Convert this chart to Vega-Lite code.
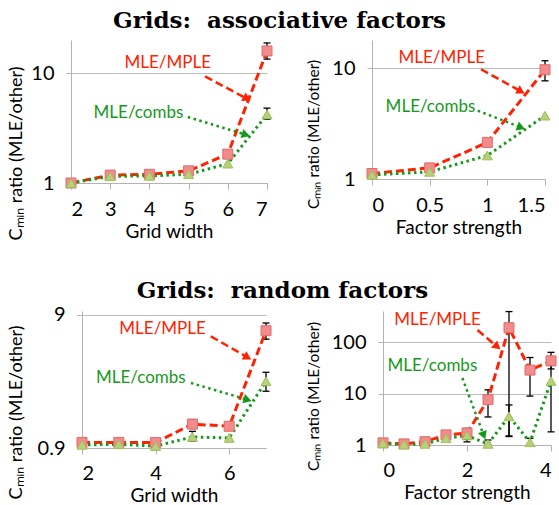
{
  "$schema": "https://vega.github.io/schema/vega-lite/v6.json",
  "padding": {"left": 6, "top": 10, "right": 2, "bottom": 0},
  "datasets": {
    "pts": [
      {"p": "TL", "s": "MLE/MPLE", "x": 2, "v": 1.0},
      {"p": "TL", "s": "MLE/MPLE", "x": 3, "v": 1.18},
      {"p": "TL", "s": "MLE/MPLE", "x": 4, "v": 1.2},
      {"p": "TL", "s": "MLE/MPLE", "x": 5, "v": 1.29},
      {"p": "TL", "s": "MLE/MPLE", "x": 6, "v": 1.83},
      {"p": "TL", "s": "MLE/MPLE", "x": 7, "v": 15.9, "lo": 13.4, "hi": 18.8},
      {"p": "TL", "s": "MLE/combs", "x": 2, "v": 1.0},
      {"p": "TL", "s": "MLE/combs", "x": 3, "v": 1.15},
      {"p": "TL", "s": "MLE/combs", "x": 4, "v": 1.16},
      {"p": "TL", "s": "MLE/combs", "x": 5, "v": 1.2},
      {"p": "TL", "s": "MLE/combs", "x": 6, "v": 1.5},
      {"p": "TL", "s": "MLE/combs", "x": 7, "v": 4.2, "lo": 3.8, "hi": 4.8},
      {"p": "TR", "s": "MLE/MPLE", "x": 0, "v": 1.12},
      {"p": "TR", "s": "MLE/MPLE", "x": 0.5, "v": 1.26},
      {"p": "TR", "s": "MLE/MPLE", "x": 1, "v": 2.14},
      {"p": "TR", "s": "MLE/MPLE", "x": 1.5, "v": 9.7, "lo": 7.7, "hi": 11.7},
      {"p": "TR", "s": "MLE/combs", "x": 0, "v": 1.09},
      {"p": "TR", "s": "MLE/combs", "x": 0.5, "v": 1.16},
      {"p": "TR", "s": "MLE/combs", "x": 1, "v": 1.63},
      {"p": "TR", "s": "MLE/combs", "x": 1.5, "v": 3.73},
      {"p": "BL", "s": "MLE/MPLE", "x": 2, "v": 0.99},
      {"p": "BL", "s": "MLE/MPLE", "x": 3, "v": 0.99},
      {"p": "BL", "s": "MLE/MPLE", "x": 4, "v": 0.99},
      {"p": "BL", "s": "MLE/MPLE", "x": 5, "v": 1.36, "lo": 1.26, "hi": 1.47},
      {"p": "BL", "s": "MLE/MPLE", "x": 6, "v": 1.31},
      {"p": "BL", "s": "MLE/MPLE", "x": 7, "v": 6.83, "lo": 5.9, "hi": 7.8},
      {"p": "BL", "s": "MLE/combs", "x": 2, "v": 0.95},
      {"p": "BL", "s": "MLE/combs", "x": 3, "v": 0.96},
      {"p": "BL", "s": "MLE/combs", "x": 4, "v": 0.93},
      {"p": "BL", "s": "MLE/combs", "x": 5, "v": 1.09, "lo": 1.01, "hi": 1.2},
      {"p": "BL", "s": "MLE/combs", "x": 6, "v": 1.07},
      {"p": "BL", "s": "MLE/combs", "x": 7, "v": 2.85, "lo": 2.4, "hi": 3.33},
      {"p": "BR", "s": "MLE/MPLE", "x": 0, "v": 1.1},
      {"p": "BR", "s": "MLE/MPLE", "x": 0.5, "v": 1.05},
      {"p": "BR", "s": "MLE/MPLE", "x": 1, "v": 1.16},
      {"p": "BR", "s": "MLE/MPLE", "x": 1.5, "v": 1.57, "lo": 1.35, "hi": 1.75},
      {"p": "BR", "s": "MLE/MPLE", "x": 2, "v": 1.71, "lo": 1.3, "hi": 2.1},
      {"p": "BR", "s": "MLE/MPLE", "x": 2.5, "v": 7.6, "lo": 3.5, "hi": 11.8},
      {"p": "BR", "s": "MLE/MPLE", "x": 3, "v": 190, "lo": 1.46, "hi": 390},
      {"p": "BR", "s": "MLE/MPLE", "x": 3.5, "v": 28.5, "lo": 8.9, "hi": 50},
      {"p": "BR", "s": "MLE/MPLE", "x": 4, "v": 43, "lo": 30, "hi": 63},
      {"p": "BR", "s": "MLE/combs", "x": 0, "v": 1.08},
      {"p": "BR", "s": "MLE/combs", "x": 0.5, "v": 1.02},
      {"p": "BR", "s": "MLE/combs", "x": 1, "v": 1.05},
      {"p": "BR", "s": "MLE/combs", "x": 1.5, "v": 1.35, "lo": 1.2, "hi": 1.5},
      {"p": "BR", "s": "MLE/combs", "x": 2, "v": 1.53, "lo": 1.15, "hi": 1.95},
      {"p": "BR", "s": "MLE/combs", "x": 2.5, "v": 1.05, "lo": 1.0, "hi": 1.25},
      {"p": "BR", "s": "MLE/combs", "x": 3, "v": 3.6, "lo": 1.5, "hi": 6.0},
      {"p": "BR", "s": "MLE/combs", "x": 3.5, "v": 1.13, "lo": 1.0, "hi": 1.35},
      {"p": "BR", "s": "MLE/combs", "x": 4, "v": 17.5, "lo": 1.8, "hi": 36}
    ],
    "arrows": [
      {"p": "TL", "s": "MLE/MPLE", "x": 5.42, "v": 9.33, "x2": 6.49, "v2": 5.85},
      {"p": "TL", "s": "MLE/combs", "x": 4.98, "v": 3.98, "x2": 6.46, "v2": 2.75},
      {"p": "TR", "s": "MLE/MPLE", "x": 0.945, "v": 9.8, "x2": 1.292, "v2": 6.18},
      {"p": "TR", "s": "MLE/combs", "x": 0.917, "v": 4.14, "x2": 1.292, "v2": 2.92},
      {"p": "BL", "s": "MLE/MPLE", "x": 5.5, "v": 6.2, "x2": 6.5, "v2": 4.31},
      {"p": "BL", "s": "MLE/combs", "x": 4.96, "v": 2.77, "x2": 6.5, "v2": 2.07},
      {"p": "BR", "s": "MLE/MPLE", "x": 2.25, "v": 171, "x2": 2.72, "v2": 81},
      {"p": "BR", "s": "MLE/combs", "x": 1.89, "v": 20, "x2": 2.4, "v2": 1.53}
    ],
    "labels": [
      {"p": "TL", "s": "MLE/MPLE", "x": 4.47, "v": 12.3},
      {"p": "TL", "s": "MLE/combs", "x": 3.72, "v": 4.33},
      {"p": "TR", "s": "MLE/MPLE", "x": 0.605, "v": 12.5},
      {"p": "TR", "s": "MLE/combs", "x": 0.507, "v": 4.5},
      {"p": "BL", "s": "MLE/MPLE", "x": 4.19, "v": 7.03},
      {"p": "BL", "s": "MLE/combs", "x": 3.6, "v": 3.01},
      {"p": "BR", "s": "MLE/MPLE", "x": 1.3, "v": 269},
      {"p": "BR", "s": "MLE/combs", "x": 1.176, "v": 34.4}
    ],
    "none": []
  },
  "spacing": 38,
  "vconcat": [
    {
      "title": {"text": "Grids:\u00a0 associative factors"},
      "bounds": "flush",
      "spacing": 105,
      "hconcat": [
        {
          "width": 196, "height": 143,
          "data": {"name": "pts"},
          "transform": [{"filter": "datum.p == 'TL'"}],
          "encoding": {
            "x": {"field": "x", "type": "quantitative", "scale": {"domain": [2, 7], "nice": false, "zero": false}, "axis": {"title": "Grid width", "values": [2, 3, 4, 5, 6, 7], "format": "~g"}},
            "y": {"field": "v", "type": "quantitative", "scale": {"type": "log", "domain": [1, 20], "nice": false}, "axis": {"title": "Cₘᵢₙ ratio (MLE/other)", "values": [1, 10], "format": "~g", "titleX": -55, "titleY": 113, "titleFontSize": 18}}
          },
          "layer": [
            {"transform": [{"filter": "isValid(datum.lo)"}], "mark": {"type": "rule", "color": "#000", "strokeWidth": 1.3}, "encoding": {"y": {"field": "lo", "type": "quantitative", "scale": {"type": "log"}}, "y2": {"field": "hi"}}},
            {"transform": [{"filter": "isValid(datum.lo)"}], "mark": {"type": "tick", "orient": "horizontal", "color": "#000", "size": 7, "thickness": 1.3, "opacity": 1}, "encoding": {"y": {"field": "lo", "type": "quantitative", "scale": {"type": "log"}}}},
            {"transform": [{"filter": "isValid(datum.lo)"}], "mark": {"type": "tick", "orient": "horizontal", "color": "#000", "size": 7, "thickness": 1.3, "opacity": 1}, "encoding": {"y": {"field": "hi", "type": "quantitative", "scale": {"type": "log"}}}},
            {"mark": {"type": "line", "strokeWidth": 3}, "encoding": {
              "color": {"field": "s", "type": "nominal", "scale": {"domain": ["MLE/MPLE", "MLE/combs"], "range": ["#ff2200", "#16991a"]}, "legend": null},
              "strokeDash": {"field": "s", "type": "nominal", "scale": {"domain": ["MLE/MPLE", "MLE/combs"], "range": [[8, 4], [2.5, 3.5]]}, "legend": null}}},
            {"mark": {"type": "point", "filled": true, "size": 100, "opacity": 1, "strokeWidth": 1}, "encoding": {
              "shape": {"field": "s", "type": "nominal", "scale": {"domain": ["MLE/MPLE", "MLE/combs"], "range": ["square", "triangle-up"]}, "legend": null},
              "fill": {"field": "s", "type": "nominal", "scale": {"domain": ["MLE/MPLE", "MLE/combs"], "range": ["#f28b8b", "#b7d17a"]}, "legend": null},
              "stroke": {"field": "s", "type": "nominal", "scale": {"domain": ["MLE/MPLE", "MLE/combs"], "range": ["#e46a6a", "#9fbf5a"]}, "legend": null}}},
            {"data": {"name": "arrows"}, "transform": [{"filter": "datum.p == 'TL'"}], "mark": {"type": "rule", "strokeWidth": 2.5}, "encoding": {
              "x2": {"field": "x2"}, "y2": {"field": "v2"},
              "color": {"field": "s", "type": "nominal", "scale": {"domain": ["MLE/MPLE", "MLE/combs"], "range": ["#ff2200", "#16991a"]}, "legend": null},
              "strokeDash": {"field": "s", "type": "nominal", "scale": {"domain": ["MLE/MPLE", "MLE/combs"], "range": [[8, 4], [2.5, 3.5]]}, "legend": null}}},
            {"data": {"name": "arrows"}, "transform": [{"filter": "datum.p == 'TL' && datum.s == 'MLE/MPLE'"}], "mark": {"type": "point", "shape": "triangle-right", "filled": true, "size": 90, "angle": 28, "color": "#ff2200", "opacity": 1}, "encoding": {"x": {"field": "x2", "type": "quantitative"}, "y": {"field": "v2", "type": "quantitative", "scale": {"type": "log"}}}},
            {"data": {"name": "arrows"}, "transform": [{"filter": "datum.p == 'TL' && datum.s == 'MLE/combs'"}], "mark": {"type": "point", "shape": "triangle-right", "filled": true, "size": 90, "angle": 17, "color": "#16991a", "opacity": 1}, "encoding": {"x": {"field": "x2", "type": "quantitative"}, "y": {"field": "v2", "type": "quantitative", "scale": {"type": "log"}}}},
            {"data": {"name": "labels"}, "transform": [{"filter": "datum.p == 'TL'"}], "mark": {"type": "text", "fontSize": 17, "font": "Lato"}, "encoding": {"text": {"field": "s"},
              "color": {"field": "s", "type": "nominal", "scale": {"domain": ["MLE/MPLE", "MLE/combs"], "range": ["#ff2200", "#16991a"]}, "legend": null}}}
          ]
        },
        {
          "width": 173, "height": 139,
          "data": {"name": "pts"},
          "transform": [{"filter": "datum.p == 'TR'"}],
          "encoding": {
            "x": {"field": "x", "type": "quantitative", "scale": {"domain": [0, 1.5], "nice": false, "zero": false}, "axis": {"title": "Factor strength", "values": [0, 0.5, 1, 1.5], "format": "~g"}},
            "y": {"field": "v", "type": "quantitative", "scale": {"type": "log", "domain": [1, 18], "nice": false}, "axis": {"title": "Cₘᵢₙ ratio (MLE/other)", "values": [1, 10], "format": "~g", "titleX": -59, "titleY": 94, "titleFontSize": 15.5}}
          },
          "layer": [
            {"transform": [{"filter": "isValid(datum.lo)"}], "mark": {"type": "rule", "color": "#000", "strokeWidth": 1.3}, "encoding": {"y": {"field": "lo", "type": "quantitative", "scale": {"type": "log"}}, "y2": {"field": "hi"}}},
            {"transform": [{"filter": "isValid(datum.lo)"}], "mark": {"type": "tick", "orient": "horizontal", "color": "#000", "size": 7, "thickness": 1.3, "opacity": 1}, "encoding": {"y": {"field": "lo", "type": "quantitative", "scale": {"type": "log"}}}},
            {"transform": [{"filter": "isValid(datum.lo)"}], "mark": {"type": "tick", "orient": "horizontal", "color": "#000", "size": 7, "thickness": 1.3, "opacity": 1}, "encoding": {"y": {"field": "hi", "type": "quantitative", "scale": {"type": "log"}}}},
            {"mark": {"type": "line", "strokeWidth": 3}, "encoding": {
              "color": {"field": "s", "type": "nominal", "scale": {"domain": ["MLE/MPLE", "MLE/combs"], "range": ["#ff2200", "#16991a"]}, "legend": null},
              "strokeDash": {"field": "s", "type": "nominal", "scale": {"domain": ["MLE/MPLE", "MLE/combs"], "range": [[8, 4], [2.5, 3.5]]}, "legend": null}}},
            {"mark": {"type": "point", "filled": true, "size": 100, "opacity": 1, "strokeWidth": 1}, "encoding": {
              "shape": {"field": "s", "type": "nominal", "scale": {"domain": ["MLE/MPLE", "MLE/combs"], "range": ["square", "triangle-up"]}, "legend": null},
              "fill": {"field": "s", "type": "nominal", "scale": {"domain": ["MLE/MPLE", "MLE/combs"], "range": ["#f28b8b", "#b7d17a"]}, "legend": null},
              "stroke": {"field": "s", "type": "nominal", "scale": {"domain": ["MLE/MPLE", "MLE/combs"], "range": ["#e46a6a", "#9fbf5a"]}, "legend": null}}},
            {"data": {"name": "arrows"}, "transform": [{"filter": "datum.p == 'TR'"}], "mark": {"type": "rule", "strokeWidth": 2.5}, "encoding": {
              "x2": {"field": "x2"}, "y2": {"field": "v2"},
              "color": {"field": "s", "type": "nominal", "scale": {"domain": ["MLE/MPLE", "MLE/combs"], "range": ["#ff2200", "#16991a"]}, "legend": null},
              "strokeDash": {"field": "s", "type": "nominal", "scale": {"domain": ["MLE/MPLE", "MLE/combs"], "range": [[8, 4], [2.5, 3.5]]}, "legend": null}}},
            {"data": {"name": "arrows"}, "transform": [{"filter": "datum.p == 'TR' && datum.s == 'MLE/MPLE'"}], "mark": {"type": "point", "shape": "triangle-right", "filled": true, "size": 90, "angle": 29, "color": "#ff2200", "opacity": 1}, "encoding": {"x": {"field": "x2", "type": "quantitative"}, "y": {"field": "v2", "type": "quantitative", "scale": {"type": "log"}}}},
            {"data": {"name": "arrows"}, "transform": [{"filter": "datum.p == 'TR' && datum.s == 'MLE/combs'"}], "mark": {"type": "point", "shape": "triangle-right", "filled": true, "size": 90, "angle": 21, "color": "#16991a", "opacity": 1}, "encoding": {"x": {"field": "x2", "type": "quantitative"}, "y": {"field": "v2", "type": "quantitative", "scale": {"type": "log"}}}},
            {"data": {"name": "labels"}, "transform": [{"filter": "datum.p == 'TR'"}], "mark": {"type": "text", "fontSize": 17, "font": "Lato"}, "encoding": {"text": {"field": "s"},
              "color": {"field": "s", "type": "nominal", "scale": {"domain": ["MLE/MPLE", "MLE/combs"], "range": ["#ff2200", "#16991a"]}, "legend": null}}}
          ]
        }
      ]
    },
    {
      "title": {"text": "Grids:\u00a0 random factors", "offset": 2},
      "bounds": "flush",
      "spacing": 0,
      "hconcat": [
        {"width": 11, "height": 10, "data": {"name": "none"}, "mark": "point"},
        {
          "bounds": "flush",
          "spacing": 117,
          "hconcat": [
            {
              "width": 184, "height": 137,
              "data": {"name": "pts"},
              "transform": [{"filter": "datum.p == 'BL'"}],
              "encoding": {
                "x": {"field": "x", "type": "quantitative", "scale": {"domain": [2, 7], "nice": false, "zero": false}, "axis": {"title": "Grid width", "values": [2, 4, 6], "format": "~g", "labelPadding": 9, "titlePadding": 3}},
                "y": {"field": "v", "type": "quantitative", "scale": {"type": "log", "domain": [0.9, 9.6], "nice": false}, "axis": {"title": "Cₘᵢₙ ratio (MLE/other)", "values": [0.9, 9], "format": "~g", "titleX": -66, "titleY": 101, "titleFontSize": 18}}
              },
              "layer": [
                {"transform": [{"filter": "isValid(datum.lo)"}], "mark": {"type": "rule", "color": "#000", "strokeWidth": 1.3}, "encoding": {"y": {"field": "lo", "type": "quantitative", "scale": {"type": "log"}}, "y2": {"field": "hi"}}},
                {"transform": [{"filter": "isValid(datum.lo)"}], "mark": {"type": "tick", "orient": "horizontal", "color": "#000", "size": 7, "thickness": 1.3, "opacity": 1}, "encoding": {"y": {"field": "lo", "type": "quantitative", "scale": {"type": "log"}}}},
                {"transform": [{"filter": "isValid(datum.lo)"}], "mark": {"type": "tick", "orient": "horizontal", "color": "#000", "size": 7, "thickness": 1.3, "opacity": 1}, "encoding": {"y": {"field": "hi", "type": "quantitative", "scale": {"type": "log"}}}},
                {"mark": {"type": "line", "strokeWidth": 3}, "encoding": {
                  "color": {"field": "s", "type": "nominal", "scale": {"domain": ["MLE/MPLE", "MLE/combs"], "range": ["#ff2200", "#16991a"]}, "legend": null},
                  "strokeDash": {"field": "s", "type": "nominal", "scale": {"domain": ["MLE/MPLE", "MLE/combs"], "range": [[8, 4], [2.5, 3.5]]}, "legend": null}}},
                {"mark": {"type": "point", "filled": true, "size": 100, "opacity": 1, "strokeWidth": 1}, "encoding": {
                  "shape": {"field": "s", "type": "nominal", "scale": {"domain": ["MLE/MPLE", "MLE/combs"], "range": ["square", "triangle-up"]}, "legend": null},
                  "fill": {"field": "s", "type": "nominal", "scale": {"domain": ["MLE/MPLE", "MLE/combs"], "range": ["#f28b8b", "#b7d17a"]}, "legend": null},
                  "stroke": {"field": "s", "type": "nominal", "scale": {"domain": ["MLE/MPLE", "MLE/combs"], "range": ["#e46a6a", "#9fbf5a"]}, "legend": null}}},
                {"data": {"name": "arrows"}, "transform": [{"filter": "datum.p == 'BL'"}], "mark": {"type": "rule", "strokeWidth": 2.5}, "encoding": {
                  "x2": {"field": "x2"}, "y2": {"field": "v2"},
                  "color": {"field": "s", "type": "nominal", "scale": {"domain": ["MLE/MPLE", "MLE/combs"], "range": ["#ff2200", "#16991a"]}, "legend": null},
                  "strokeDash": {"field": "s", "type": "nominal", "scale": {"domain": ["MLE/MPLE", "MLE/combs"], "range": [[8, 4], [2.5, 3.5]]}, "legend": null}}},
                {"data": {"name": "arrows"}, "transform": [{"filter": "datum.p == 'BL' && datum.s == 'MLE/MPLE'"}], "mark": {"type": "point", "shape": "triangle-right", "filled": true, "size": 90, "angle": 30, "color": "#ff2200", "opacity": 1}, "encoding": {"x": {"field": "x2", "type": "quantitative"}, "y": {"field": "v2", "type": "quantitative", "scale": {"type": "log"}}}},
                {"data": {"name": "arrows"}, "transform": [{"filter": "datum.p == 'BL' && datum.s == 'MLE/combs'"}], "mark": {"type": "point", "shape": "triangle-right", "filled": true, "size": 90, "angle": 16, "color": "#16991a", "opacity": 1}, "encoding": {"x": {"field": "x2", "type": "quantitative"}, "y": {"field": "v2", "type": "quantitative", "scale": {"type": "log"}}}},
                {"data": {"name": "labels"}, "transform": [{"filter": "datum.p == 'BL'"}], "mark": {"type": "text", "fontSize": 17, "font": "Lato"}, "encoding": {"text": {"field": "s"},
                  "color": {"field": "s", "type": "nominal", "scale": {"domain": ["MLE/MPLE", "MLE/combs"], "range": ["#ff2200", "#16991a"]}, "legend": null}}}
              ]
            },
            {
              "width": 168, "height": 134,
              "data": {"name": "pts"},
              "transform": [{"filter": "datum.p == 'BR'"}],
              "encoding": {
                "x": {"field": "x", "type": "quantitative", "scale": {"domain": [0, 4], "nice": false, "zero": false}, "axis": {"title": "Factor strength", "values": [0, 2, 4], "format": "~g", "labelPadding": 9, "titlePadding": 3}},
                "y": {"field": "v", "type": "quantitative", "scale": {"type": "log", "domain": [1, 400], "nice": false}, "axis": {"title": "Cₘᵢₙ ratio (MLE/other)", "values": [1, 10, 100], "format": "~g", "titleX": -70, "titleY": 85, "titleFontSize": 15.5}}
              },
              "layer": [
                {"transform": [{"filter": "isValid(datum.lo)"}], "mark": {"type": "rule", "color": "#000", "strokeWidth": 1.3}, "encoding": {"y": {"field": "lo", "type": "quantitative", "scale": {"type": "log"}}, "y2": {"field": "hi"}}},
                {"transform": [{"filter": "isValid(datum.lo)"}], "mark": {"type": "tick", "orient": "horizontal", "color": "#000", "size": 7, "thickness": 1.3, "opacity": 1}, "encoding": {"y": {"field": "lo", "type": "quantitative", "scale": {"type": "log"}}}},
                {"transform": [{"filter": "isValid(datum.lo)"}], "mark": {"type": "tick", "orient": "horizontal", "color": "#000", "size": 7, "thickness": 1.3, "opacity": 1}, "encoding": {"y": {"field": "hi", "type": "quantitative", "scale": {"type": "log"}}}},
                {"mark": {"type": "line", "strokeWidth": 3}, "encoding": {
                  "color": {"field": "s", "type": "nominal", "scale": {"domain": ["MLE/MPLE", "MLE/combs"], "range": ["#ff2200", "#16991a"]}, "legend": null},
                  "strokeDash": {"field": "s", "type": "nominal", "scale": {"domain": ["MLE/MPLE", "MLE/combs"], "range": [[8, 4], [2.5, 3.5]]}, "legend": null}}},
                {"mark": {"type": "point", "filled": true, "size": 100, "opacity": 1, "strokeWidth": 1}, "encoding": {
                  "shape": {"field": "s", "type": "nominal", "scale": {"domain": ["MLE/MPLE", "MLE/combs"], "range": ["square", "triangle-up"]}, "legend": null},
                  "fill": {"field": "s", "type": "nominal", "scale": {"domain": ["MLE/MPLE", "MLE/combs"], "range": ["#f28b8b", "#b7d17a"]}, "legend": null},
                  "stroke": {"field": "s", "type": "nominal", "scale": {"domain": ["MLE/MPLE", "MLE/combs"], "range": ["#e46a6a", "#9fbf5a"]}, "legend": null}}},
                {"data": {"name": "arrows"}, "transform": [{"filter": "datum.p == 'BR'"}], "mark": {"type": "rule", "strokeWidth": 2.5}, "encoding": {
                  "x2": {"field": "x2"}, "y2": {"field": "v2"},
                  "color": {"field": "s", "type": "nominal", "scale": {"domain": ["MLE/MPLE", "MLE/combs"], "range": ["#ff2200", "#16991a"]}, "legend": null},
                  "strokeDash": {"field": "s", "type": "nominal", "scale": {"domain": ["MLE/MPLE", "MLE/combs"], "range": [[8, 4], [2.5, 3.5]]}, "legend": null}}},
                {"data": {"name": "arrows"}, "transform": [{"filter": "datum.p == 'BR' && datum.s == 'MLE/MPLE'"}], "mark": {"type": "point", "shape": "triangle-right", "filled": true, "size": 90, "angle": 40, "color": "#ff2200", "opacity": 1}, "encoding": {"x": {"field": "x2", "type": "quantitative"}, "y": {"field": "v2", "type": "quantitative", "scale": {"type": "log"}}}},
                {"data": {"name": "arrows"}, "transform": [{"filter": "datum.p == 'BR' && datum.s == 'MLE/combs'"}], "mark": {"type": "point", "shape": "triangle-right", "filled": true, "size": 90, "angle": 69, "color": "#16991a", "opacity": 1}, "encoding": {"x": {"field": "x2", "type": "quantitative"}, "y": {"field": "v2", "type": "quantitative", "scale": {"type": "log"}}}},
                {"data": {"name": "labels"}, "transform": [{"filter": "datum.p == 'BR'"}], "mark": {"type": "text", "fontSize": 17, "font": "Lato"}, "encoding": {"text": {"field": "s"},
                  "color": {"field": "s", "type": "nominal", "scale": {"domain": ["MLE/MPLE", "MLE/combs"], "range": ["#ff2200", "#16991a"]}, "legend": null}}}
              ]
            }
          ]
        }
      ]
    }
  ],
  "config": {
    "view": {"stroke": null},
    "font": "Lato",
    "axis": {"domainColor": "#b3b3b3", "tickColor": "#b3b3b3", "gridColor": "#bdbdbd", "labelFont": "Lato", "titleFont": "Lato", "labelColor": "#000", "titleColor": "#000", "labelFontSize": 20, "titleFontSize": 19, "titleFontWeight": "normal"},
    "axisX": {"grid": false, "tickSize": 6, "labelPadding": 10, "titlePadding": 3},
    "axisY": {"grid": true, "tickSize": 5, "labelPadding": 12, "titleBaseline": "middle", "titleAlign": "center"},
    "title": {"font": "DejaVu Serif", "fontSize": 23, "fontWeight": "bold", "anchor": "middle", "color": "#000", "offset": 7}
  }
}
